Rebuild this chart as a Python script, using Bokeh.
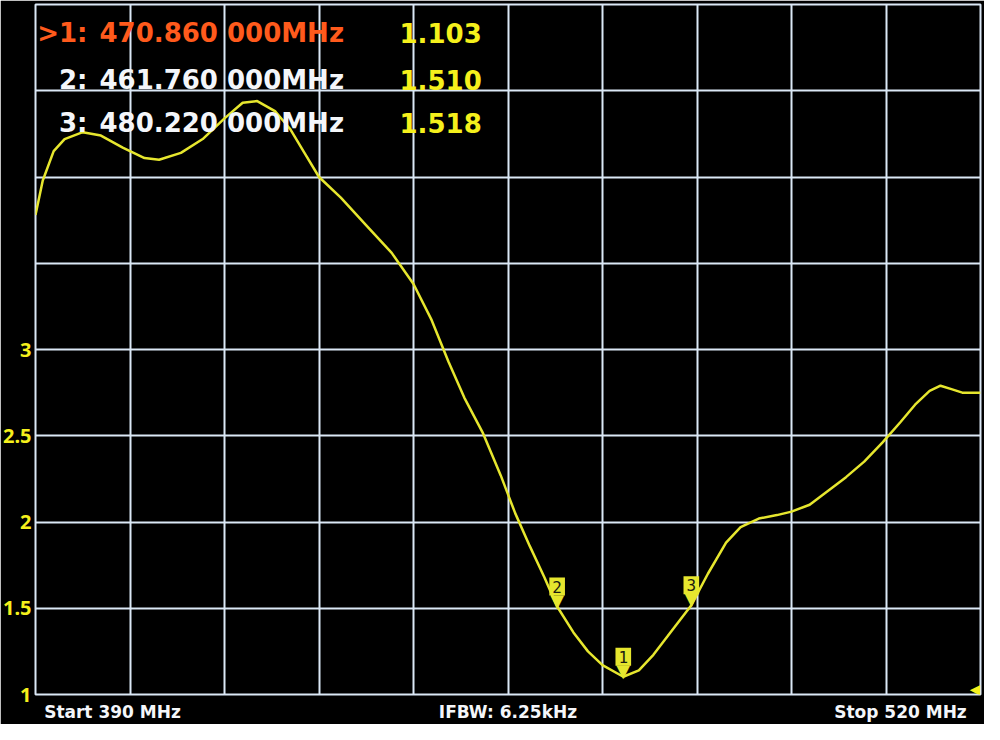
from bokeh.plotting import figure
from bokeh.models import Label, FixedTicker, ColumnDataSource, Range1d
from bokeh.embed import file_html
from bokeh.resources import INLINE
from bokeh.core.properties import value

# ---- data ----
freq_mhz = [390.0, 391.0, 392.5, 394.0, 396.5, 399.0, 402.0, 405.0, 407.0, 410.0,
            413.0, 416.0, 418.5, 420.5, 423.0, 425.0, 427.0, 429.0, 432.0, 435.5,
            439.0, 442.0, 444.5, 446.8, 449.0, 451.5, 454.0, 456.0, 458.0, 460.0,
            461.76, 464.0, 466.0, 468.0, 470.86, 473.0, 475.0, 477.0, 480.22, 482.5,
            485.0, 487.0, 489.5, 492.0, 494.0, 496.5, 499.0, 501.5, 504.0, 506.5,
            509.0, 511.0, 513.0, 514.5, 516.0, 517.5, 520.0]
swr = [3.78, 3.98, 4.15, 4.22, 4.26, 4.24, 4.17, 4.11, 4.10, 4.14,
       4.22, 4.34, 4.43, 4.44, 4.38, 4.28, 4.14, 4.00, 3.88, 3.72,
       3.56, 3.38, 3.17, 2.93, 2.72, 2.52, 2.27, 2.05, 1.86, 1.68,
       1.51, 1.36, 1.25, 1.17, 1.103, 1.14, 1.23, 1.34, 1.518, 1.70,
       1.88, 1.97, 2.02, 2.04, 2.06, 2.10, 2.18, 2.26, 2.35, 2.46,
       2.58, 2.68, 2.76, 2.79, 2.77, 2.75, 2.75]

marker_ids = ["1", "2", "3"]
marker_freq = [470.86, 461.76, 480.22]
marker_swr = [1.103, 1.510, 1.518]
marker_row_labels = [">1:", "2:", "3:"]
marker_freq_text = ["470.860 000MHz", "461.760 000MHz", "480.220 000MHz"]
marker_value_text = ["1.103", "1.510", "1.518"]

y_label_ticks = [1, 1.5, 2, 2.5, 3]
y_grid_ticks = [1, 1.5, 2, 2.5, 3, 3.5, 4, 4.5, 5]
x_start, x_stop, x_divisions = 390, 520, 10
x_grid_ticks = [x_start + i * (x_stop - x_start) / x_divisions for i in range(x_divisions + 1)]

status_texts = ["Start  390 MHz", "IFBW: 6.25kHz", "Stop  520 MHz"]
# where each status text is centred along the bottom edge (layout, in MHz)
status_pos = [401.0, 455.0, 509.4]

# ---- styles ----
BG = "#000000"
GRID = "#dbe8f6"
TRACE = "#e6e62e"
YELLOW = "#f5f01c"
ORANGE = "#ff5a1c"
WHITE = "#f4f6fa"
HFONT = "DejaVu Sans"

p = figure(width=984, height=724, output_backend="svg", toolbar_location=None,
           x_range=Range1d(x_start, x_stop), y_range=Range1d(1, 5),
           background_fill_color=BG, border_fill_color=BG,
           min_border_left=30, min_border_right=4, min_border_top=4, min_border_bottom=20)
p.outline_line_color = GRID
p.outline_line_width = 2

# bottom axis carries the status texts
p.xaxis.ticker = FixedTicker(ticks=status_pos)
p.xaxis.major_label_overrides = {status_pos[i]: status_texts[i] for i in range(3)}
p.xaxis.major_label_text_color = WHITE
p.xaxis.major_label_text_font = HFONT
p.xaxis.major_label_text_font_style = "bold"
p.xaxis.major_label_text_font_size = "17px"
p.xaxis.major_label_standoff = 7
p.xaxis.major_tick_line_color = None
p.xaxis.major_tick_out = 0
p.xaxis.major_tick_in = 0
p.xaxis.minor_tick_line_color = None
p.xaxis.minor_tick_out = 0
p.xaxis.axis_line_color = None
p.xgrid.ticker = FixedTicker(ticks=x_grid_ticks)

p.yaxis.ticker = FixedTicker(ticks=y_label_ticks)
p.ygrid.ticker = FixedTicker(ticks=y_grid_ticks)
p.yaxis.major_label_text_color = YELLOW
p.yaxis.major_label_text_font = "Noto Sans"
p.yaxis.major_label_text_font_style = "bold"
p.yaxis.major_label_text_font_size = "20px"
p.yaxis.major_tick_line_color = None
p.yaxis.major_tick_out = 0
p.yaxis.major_tick_in = 0
p.yaxis.minor_tick_line_color = None
p.yaxis.axis_line_color = None
p.yaxis.major_label_standoff = 4

for g in (p.xgrid, p.ygrid):
    g.grid_line_color = GRID
    g.grid_line_width = 2
    g.grid_line_alpha = 1.0

p.line(freq_mhz, swr, line_color=TRACE, line_width=2.5)

# marker flags
msrc = ColumnDataSource(dict(f=marker_freq, s=marker_swr, id=marker_ids,
                             tri=["\u25BC"] * len(marker_ids)))
p.text(x="f", y="s", text="tri", source=msrc, text_align="center", text_baseline="bottom",
       text_color=TRACE, text_font=value("DejaVu Sans"), text_font_size="18px", y_offset=4)
p.text(x="f", y="s", text="id", source=msrc, text_align="center", text_baseline="bottom",
       text_color="#1a1a10", text_font=value("DejaVu Sans Mono"), text_font_size="16px",
       y_offset=-11, background_fill_color=TRACE, padding=3)

# reference-level pointer at the right edge
p.text(x=[x_stop], y=[1], text=["\u25C0"], text_align="right", text_baseline="bottom",
       text_color=YELLOW, text_font=value("DejaVu Sans"), text_font_size="14px", y_offset=2)

# ---- marker readout header (screen units, relative to frame) ----
row_y = [662, 615, 572]
for i in range(len(marker_ids)):
    c = ORANGE if i == 0 else WHITE
    p.add_layout(Label(x=52, y=row_y[i], x_units="screen", y_units="screen",
                       text=marker_row_labels[i], text_align="right", text_baseline="middle",
                       text_color=c, text_font=HFONT, text_font_style="bold",
                       text_font_size="26px"))
    p.add_layout(Label(x=64, y=row_y[i], x_units="screen", y_units="screen",
                       text=marker_freq_text[i], text_align="left", text_baseline="middle",
                       text_color=c, text_font=HFONT, text_font_style="bold",
                       text_font_size="26px"))
    p.add_layout(Label(x=364, y=row_y[i], x_units="screen", y_units="screen",
                       text=marker_value_text[i], text_align="left", text_baseline="middle",
                       text_color=YELLOW, text_font=HFONT, text_font_style="bold",
                       text_font_size="26px"))

open("out.html", "w").write(file_html(p, INLINE))
